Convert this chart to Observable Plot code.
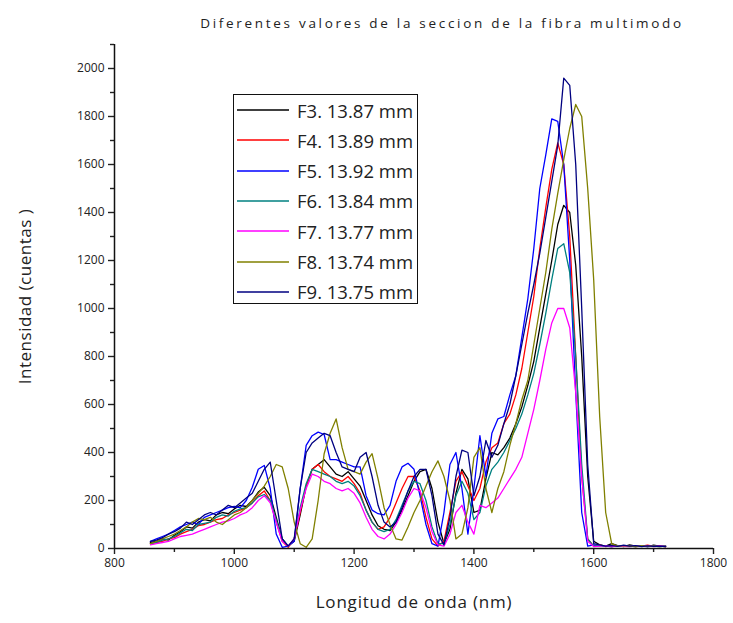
<!DOCTYPE html>
<html><head><meta charset="utf-8">
<script src="https://cdn.jsdelivr.net/npm/d3@7"></script>
<script src="https://cdn.jsdelivr.net/npm/@observablehq/plot@0.6"></script>
<style>
body{margin:0;background:#fff;}
#wrap{position:relative;width:733px;height:623px;font-family:"Open Sans",sans-serif;}
#legend{position:absolute;left:233px;top:94px;width:183px;height:208px;border:1.5px solid #111;background:#fff;}
.item{position:absolute;left:2px;height:24px;display:flex;align-items:center;font-size:18.5px;color:#222;white-space:nowrap;}
.item svg{margin-right:7px;}
</style></head><body><div id="wrap"></div>
<script>
// wavelength grid (nm)
const nmStart = 860, nmStep = 10;
const seriesNames = ["F3. 13.87 mm","F4. 13.89 mm","F5. 13.92 mm","F6. 13.84 mm","F7. 13.77 mm","F8. 13.74 mm","F9. 13.75 mm"];
const seriesColors = ["#000000","#ff0000","#0000ff","#008080","#ff00ff","#808000","#000080"];
const xMajor = [800,1000,1200,1400,1600,1800];
const xMinor = [900,1100,1300,1500,1700];
const yMajor = [0,200,400,600,800,1000,1200,1400,1600,1800,2000];
const yMinor = [100,300,500,700,900,1100,1300,1500,1700,1900,2100];

const f3 = [25,30,40,35,55,70,90,85,110,120,
  115,140,150,145,165,180,175,200,235,255,
  220,130,40,10,30,140,260,330,350,370,
  340,310,300,320,290,260,200,140,95,80,
  75,110,160,220,280,320,330,250,110,20,
  80,230,330,290,150,160,290,400,390,420,
  460,520,590,680,780,920,1060,1200,1350,1430,
  1400,1180,800,300,30,15,10,20,12,8,
  15,10,12,8,14,10,8];
const f4 = [20,25,30,40,45,60,70,80,95,100,
  110,120,125,140,150,160,170,190,220,240,
  200,110,30,5,40,150,260,330,350,320,
  300,290,280,300,270,230,160,110,80,90,
  130,190,250,300,300,240,130,40,10,30,
  150,280,320,260,200,250,360,420,440,520,
  560,640,750,900,1050,1250,1420,1580,1690,1600,
  1300,800,300,40,10,15,8,12,10,9,
  12,8,10,14,9,11,8];
const f5 = [30,40,50,60,75,90,100,110,100,130,
  140,150,160,170,175,170,200,255,330,346,
  250,60,5,10,30,250,430,470,485,475,
  370,370,360,350,340,340,220,160,145,140,
  180,280,340,355,330,220,100,20,10,150,
  350,400,250,60,250,470,300,480,540,550,
  640,720,880,1040,1250,1500,1640,1790,1780,1600,
  1200,650,150,10,15,12,10,8,12,10,
  9,12,10,8,10,9,12];
const f6 = [20,25,35,40,50,65,80,75,100,105,
  110,130,140,135,155,165,170,190,215,225,
  200,120,40,10,40,170,270,330,320,310,
  300,280,270,280,260,220,160,110,80,70,
  80,120,180,240,280,270,200,90,20,20,
  100,220,280,230,120,150,260,330,360,400,
  450,500,560,640,730,850,980,1120,1250,1270,
  1150,800,350,40,10,12,10,8,11,9,
  10,8,12,9,10,8,10];
const f7 = [15,20,25,30,40,50,55,60,70,80,
  90,100,110,115,125,140,150,170,200,220,
  190,110,30,10,40,160,250,310,300,280,
  270,250,240,250,230,190,130,80,50,40,
  60,100,150,210,250,240,170,70,15,10,
  60,150,180,110,60,180,170,190,210,250,
  290,330,380,480,580,700,830,940,1000,1000,
  920,650,300,30,8,10,12,8,10,9,
  8,10,9,12,8,10,9];
const f8 = [20,30,40,50,60,75,90,110,125,120,
  130,110,100,120,140,150,170,200,230,260,
  300,350,340,250,110,20,5,40,200,395,
  480,540,420,330,320,310,360,395,290,170,
  100,40,35,90,150,200,260,320,365,300,
  200,40,60,170,380,420,250,150,250,320,
  430,520,620,700,850,1000,1150,1330,1480,1620,
  1750,1850,1800,1500,1120,550,150,20,10,12,
  10,8,12,9,10,8,10];
const f9 = [30,35,45,60,70,85,110,100,120,140,
  150,140,160,180,170,190,210,230,280,330,
  360,200,40,10,40,250,400,440,460,480,
  470,400,340,330,320,380,400,300,180,110,
  90,110,170,240,300,330,330,220,60,15,
  130,300,410,400,220,300,450,380,430,520,
  600,720,850,980,1100,1230,1380,1530,1680,1960,
  1930,1600,1000,350,20,15,10,12,9,14,
  10,12,8,11,9,10,8];
const seriesValues = [f3,f4,f5,f6,f7,f8,f9];

const rows = [];
seriesValues.forEach((vals, si) => {
  vals.forEach((v, i) => rows.push({nm: nmStart + i*nmStep, v, series: seriesNames[si]}));
});

const font = "'Open Sans', sans-serif";
const chart = Plot.plot({
  width: 733, height: 623,
  marginTop: 44, marginBottom: 75, marginLeft: 114, marginRight: 20,
  x: {domain: [800, 1800]},
  y: {domain: [0, 2100]},
  color: {domain: seriesNames, range: seriesColors},
  style: {fontFamily: font, fontSize: "12px", color: "#222", background: "#fff"},
  marks: [
    Plot.line(rows, {x: "nm", y: "v", z: "series", stroke: "series", strokeWidth: 1.3}),
    Plot.axisX({ticks: xMajor, tickSize: 6, tickPadding: 4, tickFormat: d => String(d), label: null, strokeWidth: 1.4, fontSize: 12}),
    Plot.axisX({ticks: xMinor, tickSize: 4, tickFormat: () => "", label: null, strokeWidth: 1.4}),
    Plot.axisY({ticks: yMajor, tickSize: 6, tickPadding: 4, tickFormat: d => String(d), label: null, strokeWidth: 1.4, fontSize: 12}),
    Plot.axisY({ticks: yMinor, tickSize: 4, tickFormat: () => "", label: null, strokeWidth: 1.4}),
    Plot.ruleY([0], {stroke: "#111", strokeWidth: 1.5}),
    Plot.ruleX([800], {stroke: "#111", strokeWidth: 1.5}),
    Plot.text(["Diferentes valores de la seccion de la fibra multimodo"], {text: d => d, frameAnchor: "top", dx: 28, dy: -26, fontSize: 13.5, fill: "#222"}),
    Plot.text(["Intensidad (cuentas )"], {text: d => d, frameAnchor: "left", textAnchor: "middle", dx: -89, rotate: -90, fontSize: 17, fill: "#222"}),
    Plot.text(["Longitud de onda (nm)"], {text: d => d, frameAnchor: "bottom", dy: 59, fontSize: 17, fill: "#222"})
  ]
});
const wrap = document.getElementById("wrap");
wrap.appendChild(chart);
const sel = d3.select(chart).selectAll("text");
sel.filter(function(){return this.textContent.startsWith("Diferentes");}).style("letter-spacing","2.7px");
sel.filter(function(){return this.textContent.startsWith("Longitud");}).style("letter-spacing","0.8px");
sel.filter(function(){return this.textContent.startsWith("Intensidad");}).style("letter-spacing","0.5px");

// legend
const leg = document.createElement("div");
leg.id = "legend";
seriesNames.forEach((name, i) => {
  const it = document.createElement("div");
  it.className = "item";
  it.style.top = (3 + i*30.3) + "px";
  it.innerHTML = `<svg width="54" height="4"><line x1="1" x2="53" y1="2" y2="2" stroke="${seriesColors[i]}" stroke-width="1.5"/></svg><span>${name}</span>`;
  leg.appendChild(it);
});
wrap.appendChild(leg);
</script></body></html>
